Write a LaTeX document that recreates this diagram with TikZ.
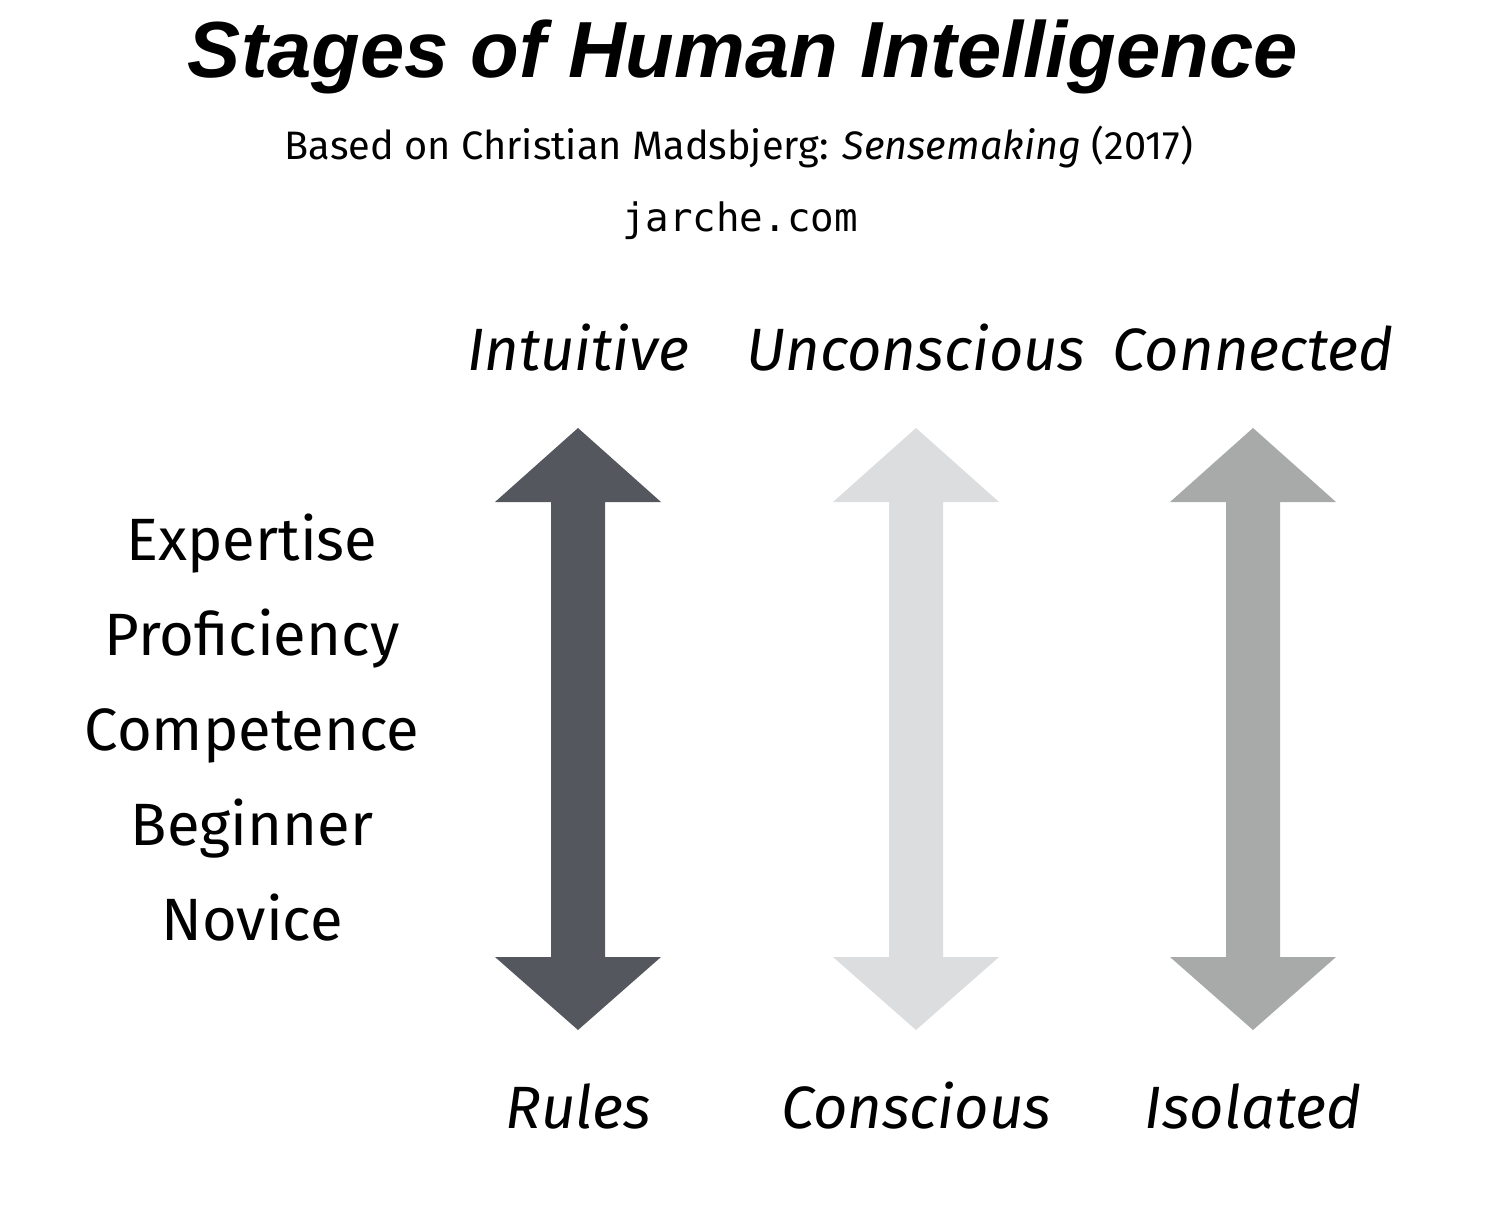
\documentclass[tikz,border=0pt]{standalone}
\usepackage{fontspec}
\setmainfont{Fira Sans}
\newfontfamily\titlefont{Liberation Sans}
\setmonofont{DejaVu Sans Mono}
\definecolor{arrowdark}{HTML}{54575E}
\definecolor{arrowlight}{HTML}{DCDDDF}
\definecolor{arrowmid}{HTML}{A8A9A9}
\tikzset{
  stage/.style={anchor=base, font={\fontsize{34pt}{0pt}\selectfont}},
  pole/.style={anchor=base, font={\fontsize{34pt}{0pt}\selectfont\itshape}},
}
\begin{document}
\begin{tikzpicture}[x=0.02cm, y=-0.02cm, line join=round, line cap=round]
		\useasboundingbox (0,0) rectangle (1488,1206);
		% heading
		\node[anchor=base, font={\fontsize{45.3pt}{0pt}\selectfont\titlefont\bfseries\itshape}] (title) at (743,78) {Stages of Human Intelligence};
		\node[anchor=base, font={\fontsize{22.6pt}{0pt}\selectfont}] (source) at (739,160) {Based on Christian Madsbjerg: \textit{Sensemaking} (2017)};
		\node[anchor=base, font={\fontsize{22.3pt}{0pt}\selectfont\ttfamily}] (site) at (740,232) {jarche.com};
		% stages
		\foreach \s [count=\i] in {Expertise,Proficiency,Competence,Beginner,Novice}
		{\node[stage] (stage\i) at (252,560+\i*95-95) {\s};}
		% arrows
		\foreach \x/\c in {578/arrowdark,916/arrowlight,1253/arrowmid}
		{\fill[\c] (\x,428)--(\x+83,502)--(\x+27,502)--(\x+27,957)--(\x+83,957)--(\x,1030)
			--(\x-83,957)--(\x-27,957)--(\x-27,502)--(\x-83,502)--cycle;}
		% poles
		\node[pole] (intuitive) at (578,370) {Intuitive};
		\node[pole] (unconscious) at (916,370) {Unconscious};
		\node[pole] (connected) at (1253,370) {Connected};
		\node[pole] (rules) at (578,1128) {Rules};
		\node[pole] (conscious) at (916,1128) {Conscious};
		\node[pole] (isolated) at (1253,1128) {Isolated};
\end{tikzpicture}
\end{document}
